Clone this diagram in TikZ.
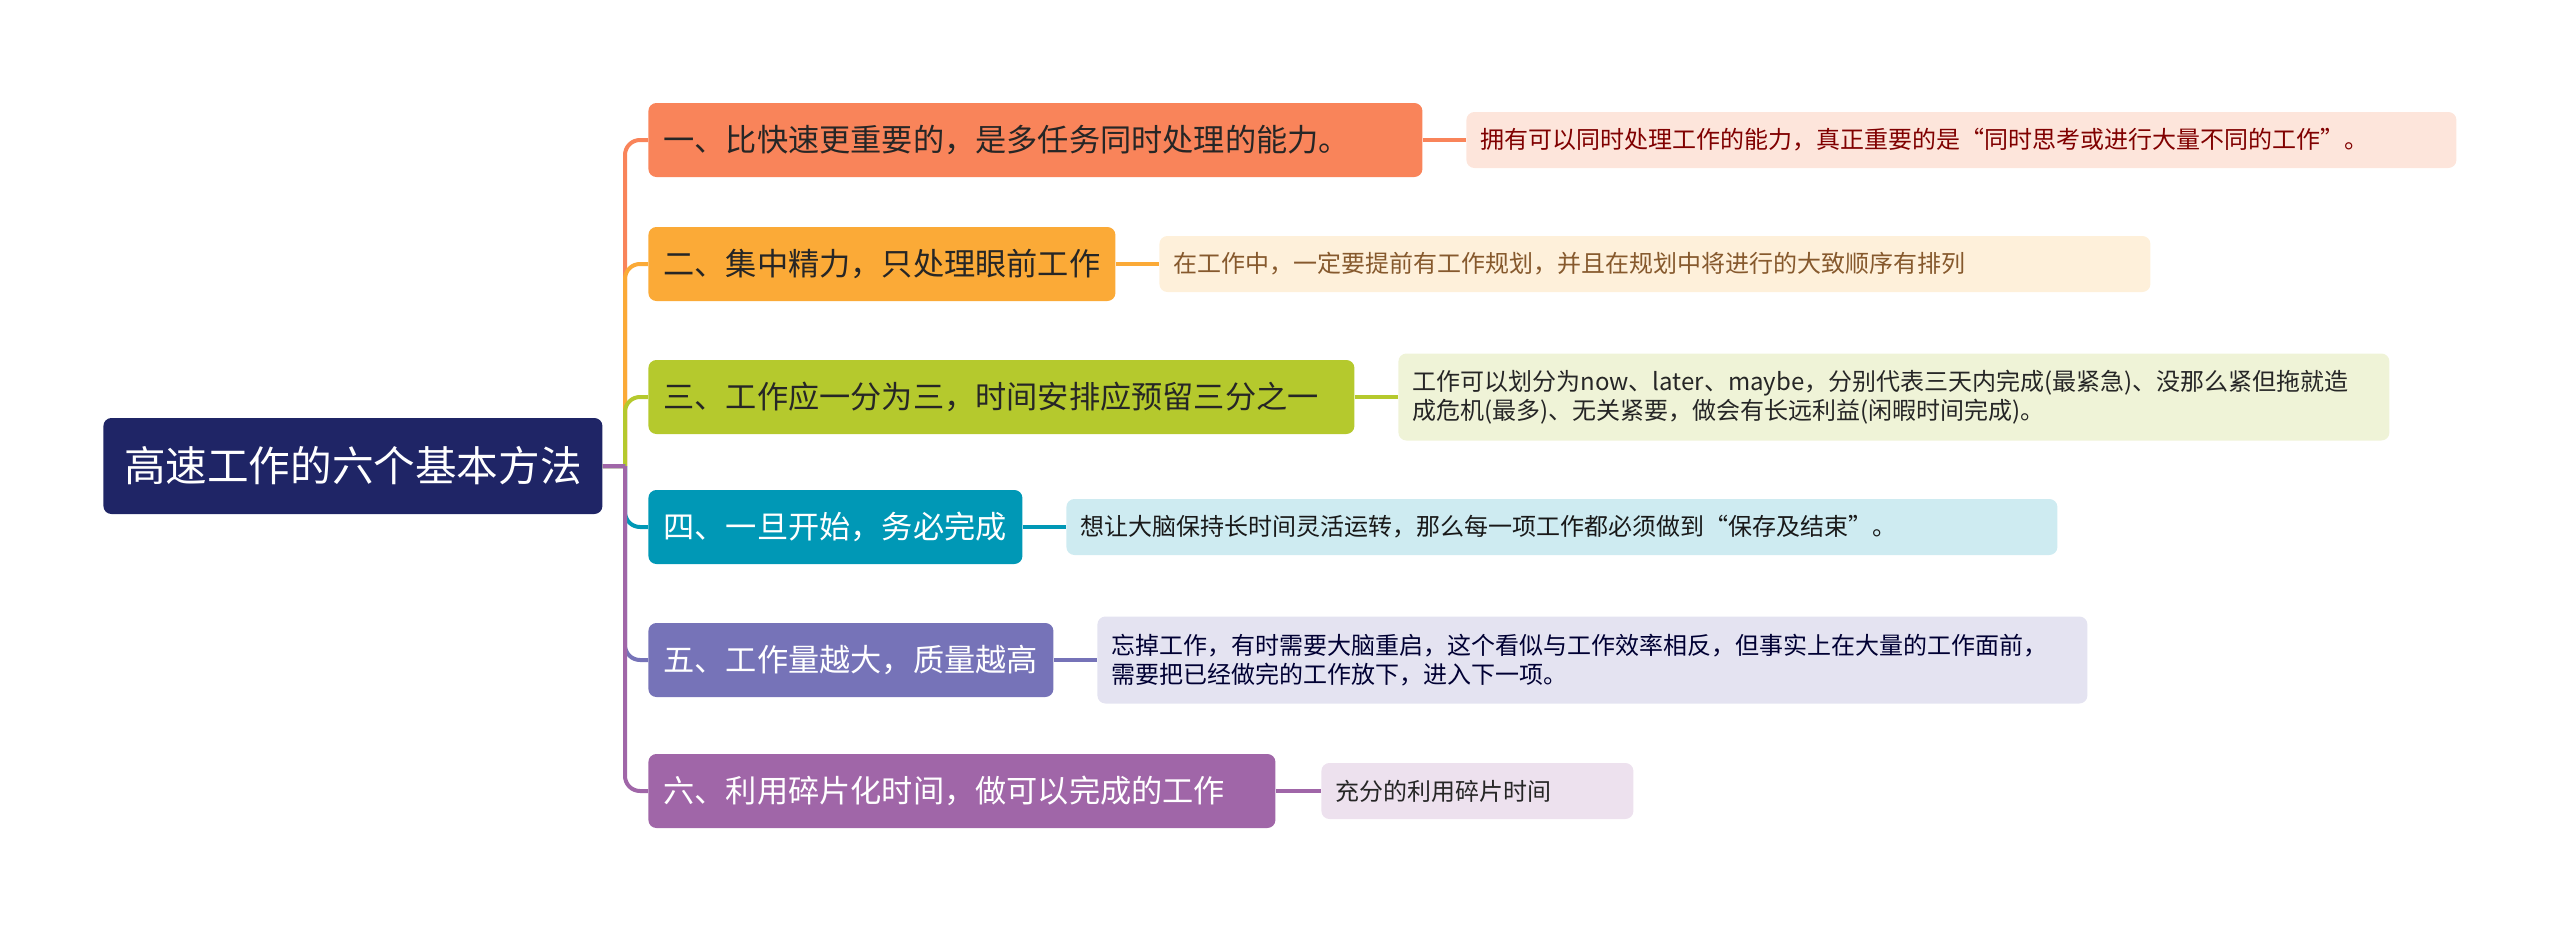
\documentclass[tikz,border=0pt]{standalone}
\usepackage{fontspec}
\setmainfont{Noto Sans CJK SC}
\usetikzlibrary{positioning}
\definecolor{rootblue}{HTML}{1F2566}
\definecolor{topicA}{HTML}{F9845A}
\definecolor{topicB}{HTML}{FBAA37}
\definecolor{topicC}{HTML}{B5C92D}
\definecolor{topicD}{HTML}{0098B6}
\definecolor{topicE}{HTML}{7673B8}
\definecolor{topicF}{HTML}{A066A8}
\definecolor{noteA}{HTML}{FDE5DB}
\definecolor{noteB}{HTML}{FEF0DA}
\definecolor{noteC}{HTML}{EFF3D7}
\definecolor{noteD}{HTML}{CEEBF1}
\definecolor{noteE}{HTML}{E4E3F1}
\definecolor{noteF}{HTML}{EDE1EE}
\tikzset{
  mmroot/.style={rectangle, rounded corners=4pt, fill=rootblue, text=white,
                 anchor=west, minimum width=249.5pt, minimum height=48pt,
                 font=\fontsize{20.8}{25}\selectfont},
  mmtopic/.style={rectangle, rounded corners=4pt, anchor=west,
                  minimum height=37pt, inner xsep=7.5pt, inner ysep=0pt,
                  align=left, font=\fontsize{15.6}{18}\selectfont},
  mmnote/.style={rectangle, rounded corners=4pt, anchor=west,
                 inner xsep=7pt, inner ysep=0pt,
                 align=left, font=\fontsize{12}{14.5}\selectfont},
  mmlink/.style={line width=2pt},
}
\begin{document}
\begin{tikzpicture}[x=0.5pt, y=-0.5pt]
  \useasboundingbox (0,0) rectangle (2560,932);
  \node[mmroot] (root) at (103,466) {高速工作的六个基本方法};
  \coordinate (hub) at (625,466);
  % main topics
  \node[mmtopic, fill=topicA, text=black!85, text width=372pt] (t1) at (648,140)
    {一、比快速更重要的，是多任务同时处理的能力。};
  \node[mmtopic, fill=topicB, text=black!85, text width=218.5pt] (t2) at (648,264)
    {二、集中精力，只处理眼前工作};
  \node[mmtopic, fill=topicC, text=black!85, text width=338pt] (t3) at (648,397)
    {三、工作应一分为三，时间安排应预留三分之一};
  \node[mmtopic, fill=topicD, text=white, text width=172pt] (t4) at (648,527)
    {四、一旦开始，务必完成};
  \node[mmtopic, fill=topicE, text=white, text width=187.5pt] (t5) at (648,660)
    {五、工作量越大，质量越高};
  \node[mmtopic, fill=topicF, text=white, text width=298.5pt] (t6) at (648,791)
    {六、利用碎片化时间，做可以完成的工作};
  % notes
  \node[mmnote, fill=noteA, text=red!50!black, text width=481pt, minimum height=28pt] (n1) at (1466,140)
    {拥有可以同时处理工作的能力，真正重要的是“同时思考或进行大量不同的工作”。};
  \node[mmnote, fill=noteB, text=brown!70!black, text width=481.5pt, minimum height=28pt] (n2) at (1159,264)
    {在工作中，一定要提前有工作规划，并且在规划中将进行的大致顺序有排列};
  \node[mmnote, fill=noteC, text=black!85, text width=481.5pt, minimum height=43.5pt] (n3) at (1398,397)
    {工作可以划分为now、later、maybe，分别代表三天内完成(最紧急)、没那么紧但拖就造\\成危机(最多)、无关紧要，做会有长远利益(闲暇时间完成)。};
  \node[mmnote, fill=noteD, text=black!90, text width=481.5pt, minimum height=28pt] (n4) at (1066,527)
    {想让大脑保持长时间灵活运转，那么每一项工作都必须做到“保存及结束”。};
  \node[mmnote, fill=noteE, text=blue!20!black, text width=481pt, minimum height=43.5pt] (n5) at (1097,660)
    {忘掉工作，有时需要大脑重启，这个看似与工作效率相反，但事实上在大量的工作面前，\\需要把已经做完的工作放下，进入下一项。};
  \node[mmnote, fill=noteF, text=black!85, text width=142pt, minimum height=28pt] (n6) at (1321,791)
    {充分的利用碎片时间};
  % links
  \draw[mmlink, topicA] (root.east) -- (hub) [rounded corners=7.5pt] (hub) |- (t1.west);
  \draw[mmlink, topicB] (root.east) -- (hub) [rounded corners=7.5pt] (hub) |- (t2.west);
  \draw[mmlink, topicC] (root.east) -- (hub) [rounded corners=7.5pt] (hub) |- (t3.west);
  \draw[mmlink, topicD] (root.east) -- (hub) [rounded corners=7.5pt] (hub) |- (t4.west);
  \draw[mmlink, topicE] (root.east) -- (hub) [rounded corners=7.5pt] (hub) |- (t5.west);
  \draw[mmlink, topicF] (root.east) -- (hub) [rounded corners=7.5pt] (hub) |- (t6.west);
  \draw[mmlink, topicA] (t1.east) -- (n1.west);
  \draw[mmlink, topicB] (t2.east) -- (n2.west);
  \draw[mmlink, topicC] (t3.east) -- (n3.west);
  \draw[mmlink, topicD] (t4.east) -- (n4.west);
  \draw[mmlink, topicE] (t5.east) -- (n5.west);
  \draw[mmlink, topicF] (t6.east) -- (n6.west);
\end{tikzpicture}
\end{document}
